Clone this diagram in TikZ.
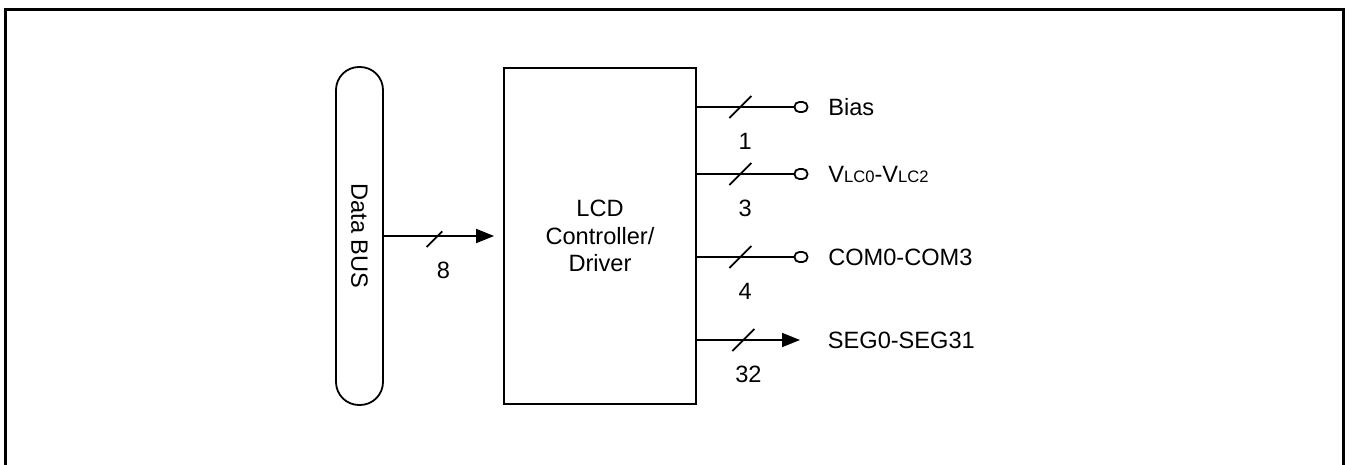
\documentclass[tikz,border=0pt]{standalone}
\usepackage{fontspec}
\setmainfont{Liberation Sans}
\usepackage{tikz}
\usetikzlibrary{arrows.meta,positioning,decorations.markings}
\newcommand{\vlc}[1]{{\fontsize{8.3}{10}\selectfont #1}}

\begin{document}
\begin{tikzpicture}[x=.5pt,y=-.5pt,>={Triangle[length=9pt,width=7pt]},line width=.9pt,
  font=\fontsize{11.8}{13.8}\selectfont,
  pinend/.style={draw,rounded corners=2.4pt,minimum width=6.5pt,minimum height=5pt,inner sep=0pt},
  sig/.style={anchor=west,inner sep=0pt,text height=8.4pt,text depth=0pt},
  num/.style={yshift=-17pt,inner sep=0pt},
  busline/.style={postaction={decorate},decoration={markings,mark=at position .45 with {\draw[-] (-5.5pt,-5.5pt)--(5.5pt,5.5pt);}}}]
\useasboundingbox (0,0) rectangle (1350,465);
\draw[line width=1.5pt] (5.5,465) -- (5.5,9.5) -- (1343.5,9.5) -- (1343.5,465);
\node[draw,rotate=-90,rounded corners=11.5pt,minimum width=169pt,minimum height=23.5pt,inner sep=0pt] (bus) at (359.5,236) {Data BUS};
\node[draw,minimum width=96pt,minimum height=168pt,align=center] (lcd) at (600,236) {LCD\\Controller/\\Driver};
\draw[busline,->,shorten >=4.5pt] (bus.north) -- node[num] (n8) {8} (lcd.west);
\node[pinend] (pbias) at (801,107) {};
\node[sig,right=9.5pt of pbias] (tbias) {Bias};
\draw[busline] (lcd.east |- pbias) -- node[num] (n1) {1} (pbias);
\node[pinend] (pvlc) at (801,174) {};
\node[sig,right=9.5pt of pvlc] (tvlc) {V\vlc{LC0}-V\vlc{LC2}};
\draw[busline] (lcd.east |- pvlc) -- node[num] (n3) {3} (pvlc);
\node[pinend] (pcom) at (801,257) {};
\node[sig,right=9.5pt of pcom] (tcom) {COM0-COM3};
\draw[busline] (lcd.east |- pcom) -- node[num] (n4) {4} (pcom);
\coordinate (pseg) at (800,340);
\node[sig,right=13.5pt of pseg] (tseg) {SEG0-SEG31};
\draw[busline,->] (lcd.east |- pseg) -- node[num] (n32) {32} (pseg);
\end{tikzpicture}
\end{document}
